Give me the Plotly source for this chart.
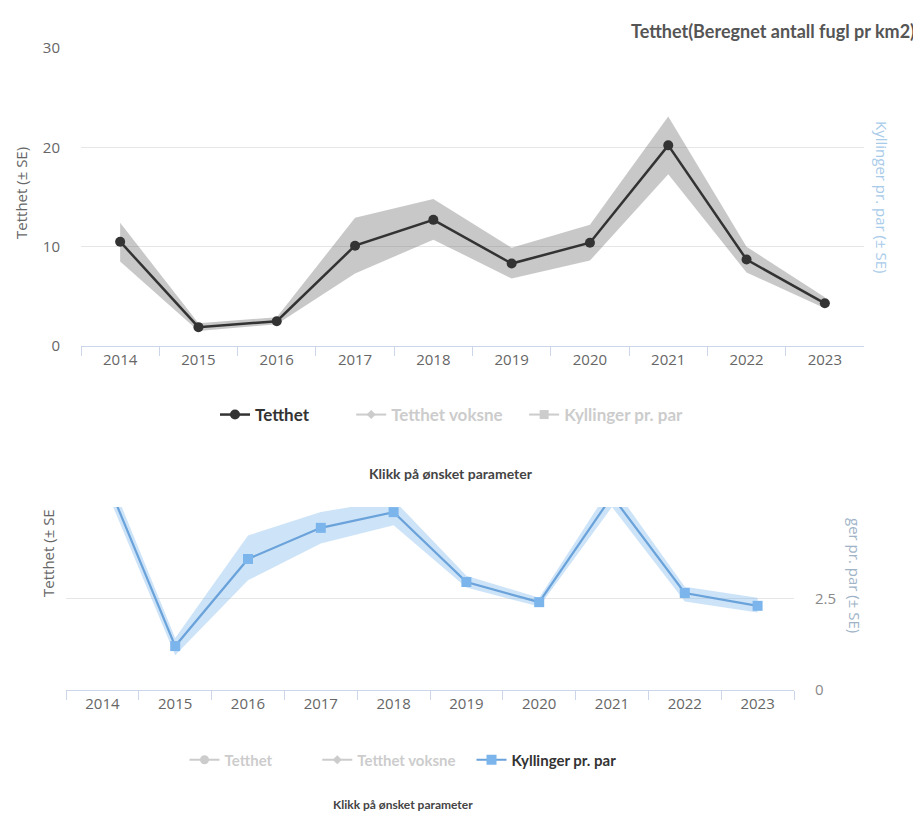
import plotly.graph_objects as go

# ---------------- data ----------------
years = ["2014", "2015", "2016", "2017", "2018", "2019", "2020", "2021", "2022", "2023"]

tetthet = [10.5, 1.9, 2.5, 10.1, 12.7, 8.3, 10.4, 20.2, 8.7, 4.3]
tetthet_lo = [8.5, 1.5, 2.2, 7.3, 10.7, 6.8, 8.6, 17.3, 7.4, 3.8]
tetthet_hi = [12.4, 2.3, 2.9, 12.9, 14.8, 9.9, 12.2, 23.1, 10.0, 4.9]

kyllinger = [6.0, 1.2, 3.58, 4.43, 4.86, 2.95, 2.40, 5.3, 2.65, 2.30]
kyllinger_lo = [5.7, 0.95, 3.0, 4.0, 4.5, 2.8, 2.28, 5.0, 2.42, 2.12]
kyllinger_hi = [6.3, 1.42, 4.22, 4.86, 5.2, 3.12, 2.52, 5.6, 2.82, 2.52]

# series that is switched off in both views (values not shown)
tetthet_voksne = [None] * len(years)

top_yticks = [0, 10, 20, 30]
bottom_yticks = [0, 2.5, 5]
bottom_yticktext = ["0", "2.5", ""]

series_names = ["Tetthet", "Tetthet voksne", "Kyllinger pr. par"]

# ---------------- styling ----------------
PAGE_W, PAGE_H = 921, 816
OFF = 8  # default page margin of the html body
W, H = PAGE_W - OFF, PAGE_H - OFF
DARK = "#333333"
BLUE = "#7cb5ec"
BLUE_LINE = "#6aa2da"
HIDDEN = "#9a9a9a"
GRID = "#e6e6e6"
AXIS = "#ccd6eb"
TICKFONT = dict(family="Open Sans", size=15, color="#666666")
NB = "\u00a0"


def px_x(p):
    return (p - OFF) / W


def px_y(p):
    return 1 - (p - OFF) / H


def label(n, pad=0, hidden=False):
    txt = n + NB * pad
    if hidden:
        return '<span style="color:%s">%s</span>' % (HIDDEN, txt)
    return txt


fig = go.Figure()

# ---------- top chart: Tetthet ----------
fig.add_trace(go.Scatter(x=years, y=tetthet_lo, mode="lines", line=dict(width=0),
                         showlegend=False, hoverinfo="skip", xaxis="x", yaxis="y"))
fig.add_trace(go.Scatter(x=years, y=tetthet_hi, mode="lines", line=dict(width=0),
                         fill="tonexty", fillcolor="rgba(110,110,110,0.38)",
                         showlegend=False, hoverinfo="skip", xaxis="x", yaxis="y"))
fig.add_trace(go.Scatter(x=years, y=tetthet, mode="lines+markers",
                         name=label(series_names[0], 9),
                         line=dict(color=DARK, width=2.5),
                         marker=dict(symbol="circle", size=10, color=DARK),
                         xaxis="x", yaxis="y", legend="legend"))
fig.add_trace(go.Scatter(x=years, y=tetthet_voksne, mode="lines+markers",
                         name=label(series_names[1], 4, hidden=True), visible="legendonly",
                         line=dict(color=HIDDEN, width=2),
                         marker=dict(symbol="diamond", size=7, color=HIDDEN),
                         xaxis="x", yaxis="y", legend="legend"))
fig.add_trace(go.Scatter(x=years, y=kyllinger, mode="lines+markers",
                         name=label(series_names[2], 0, hidden=True), visible="legendonly",
                         line=dict(color=HIDDEN, width=2),
                         marker=dict(symbol="square", size=9, color=HIDDEN),
                         xaxis="x", yaxis="y", legend="legend"))

# ---------- bottom chart: Kyllinger pr. par ----------
fig.add_trace(go.Scatter(x=years, y=tetthet, mode="lines+markers",
                         name=label(series_names[0], 11, hidden=True), visible="legendonly",
                         line=dict(color=HIDDEN, width=2),
                         marker=dict(symbol="circle", size=9, color=HIDDEN),
                         xaxis="x2", yaxis="y3", legend="legend2"))
fig.add_trace(go.Scatter(x=years, y=tetthet_voksne, mode="lines+markers",
                         name=label(series_names[1], 3, hidden=True), visible="legendonly",
                         line=dict(color=HIDDEN, width=2),
                         marker=dict(symbol="diamond", size=7, color=HIDDEN),
                         xaxis="x2", yaxis="y3", legend="legend2"))
fig.add_trace(go.Scatter(x=years, y=kyllinger_lo, mode="lines", line=dict(width=0),
                         showlegend=False, hoverinfo="skip", xaxis="x2", yaxis="y3"))
fig.add_trace(go.Scatter(x=years, y=kyllinger_hi, mode="lines", line=dict(width=0),
                         fill="tonexty", fillcolor="rgba(124,181,236,0.38)",
                         showlegend=False, hoverinfo="skip", xaxis="x2", yaxis="y3"))
fig.add_trace(go.Scatter(x=years, y=kyllinger, mode="lines+markers",
                         name=label(series_names[2]),
                         line=dict(color=BLUE_LINE, width=2.2),
                         marker=dict(symbol="square", size=10, color=BLUE),
                         xaxis="x2", yaxis="y3", legend="legend2"))

xcommon = dict(type="category", range=[-0.5, len(years) - 0.5],
               showgrid=False, showline=True, linecolor=AXIS, linewidth=1,
               ticks="outside", tickson="boundaries", ticklen=9, tickcolor=AXIS,
               tickfont=TICKFONT, zeroline=False, fixedrange=True, automargin=False)

fig.update_layout(
    width=W, height=H, autosize=False,
    margin=dict(l=0, r=0, t=0, b=0, autoexpand=False),
    paper_bgcolor="white", plot_bgcolor="white",
    xaxis=dict(domain=[px_x(81), px_x(864)], anchor="y", **xcommon),
    yaxis=dict(domain=[px_y(346), px_y(48)], range=[0, 30], tickvals=top_yticks,
               showgrid=True, gridcolor=GRID, zeroline=False, showline=False,
               tickfont=TICKFONT, ticklabelstandoff=20, fixedrange=True, automargin=False),
    xaxis2=dict(domain=[px_x(66), px_x(794)], anchor="y3", **xcommon),
    yaxis3=dict(domain=[px_y(690), px_y(507)], range=[0, 5], side="right", anchor="x2",
                tickvals=bottom_yticks, ticktext=bottom_yticktext,
                showgrid=True, gridcolor=GRID, zeroline=False, showline=False,
                tickfont=dict(family="Open Sans", size=15, color="#8a8a8a"),
                ticklabelstandoff=20, fixedrange=True, automargin=False),
    legend=dict(orientation="h", x=px_x(452), xanchor="center", y=px_y(415), yanchor="middle",
                traceorder="normal",
                font=dict(family="Lato", size=17, color=DARK, weight="bold"),
                bgcolor="rgba(0,0,0,0)"),
    legend2=dict(orientation="h", x=px_x(403), xanchor="center", y=px_y(760), yanchor="middle",
                 traceorder="normal",
                 font=dict(family="Lato", size=15, color=DARK, weight="bold"),
                 bgcolor="rgba(0,0,0,0)"),
    showlegend=True,
)

annotations = [
    dict(text="Tetthet(Beregnet antall fugl pr km2)", x=px_x(917), y=px_y(31),
         xanchor="right", yanchor="middle",
         font=dict(family="Lato", size=18, color="#555555", weight="bold")),
    dict(text="Tetthet (± SE)", x=px_x(21), y=px_y(193), textangle=-90,
         xanchor="center", yanchor="middle",
         font=dict(family="Open Sans", size=15, color="#666666")),
    dict(text="Kyllinger pr. par (± SE)", x=px_x(882), y=px_y(197), textangle=90,
         xanchor="center", yanchor="middle",
         font=dict(family="Open Sans", size=15, color="#a9cbea")),
    dict(text="Klikk på ønsket parameter", x=px_x(451), y=px_y(474),
         xanchor="center", yanchor="middle",
         font=dict(family="Lato", size=14, color="#444444", weight="bold")),
    dict(text="Tetthet (± SE", x=px_x(48), y=px_y(553), textangle=-90,
         xanchor="center", yanchor="middle",
         font=dict(family="Open Sans", size=15, color="#666666")),
    dict(text="ger pr. par (± SE)", x=px_x(855), y=px_y(575), textangle=90,
         xanchor="center", yanchor="middle",
         font=dict(family="Open Sans", size=15, color="#9fb4c9")),
    dict(text="Klikk på ønsket parameter", x=px_x(403), y=px_y(804),
         xanchor="center", yanchor="middle",
         font=dict(family="Lato", size=12, color="#444444", weight="bold")),
]
for a in annotations:
    a.update(xref="paper", yref="paper", showarrow=False)
fig.update_layout(annotations=annotations)

fig.write_html("out.html")
